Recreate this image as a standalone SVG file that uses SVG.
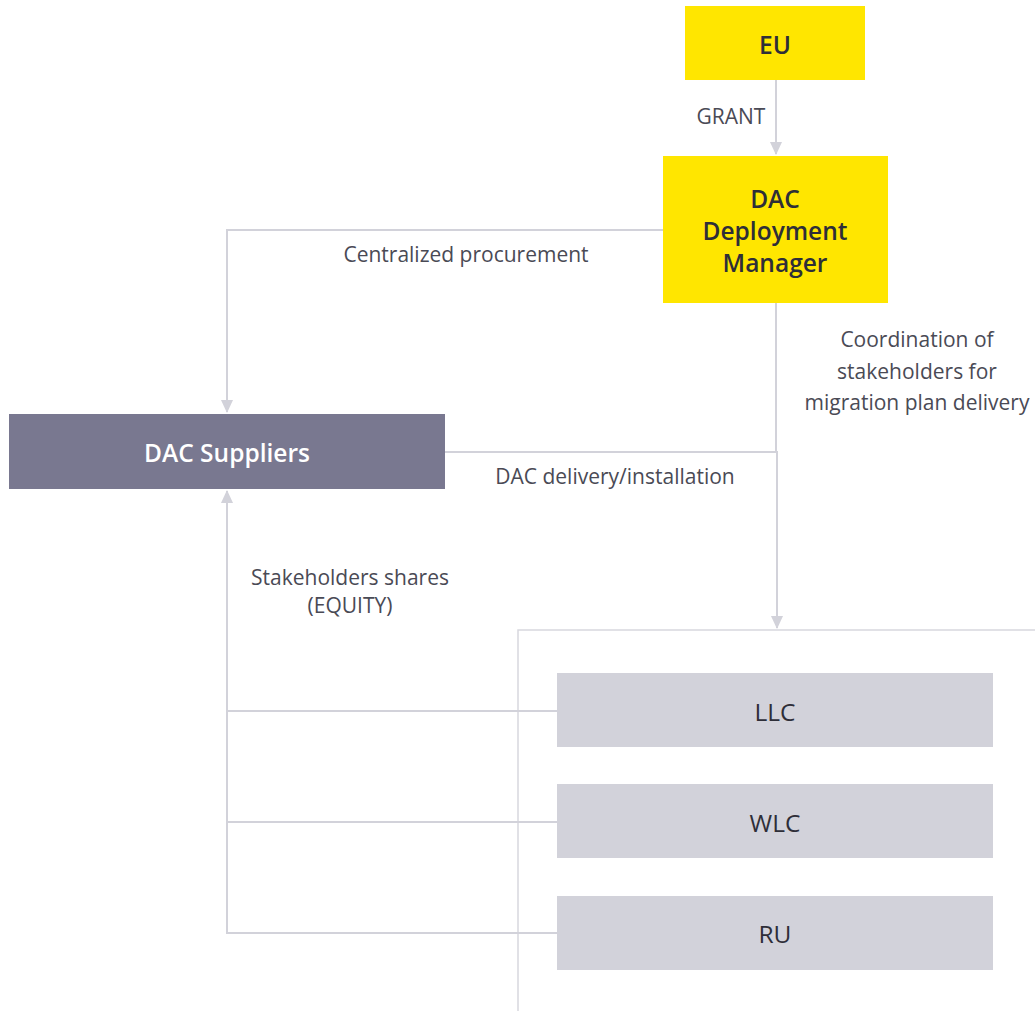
<svg xmlns="http://www.w3.org/2000/svg" width="1035" height="1011" viewBox="0 0 1035 1011">
<defs>
<marker id="arr" markerWidth="14" markerHeight="12" refX="12" refY="6" orient="auto" markerUnits="userSpaceOnUse">
<path d="M0,0 L13,6 L0,12 Z" fill="#d2d2da"/>
</marker>
<style>
.ln{fill:none;stroke:#d2d2da;stroke-width:2}
.lbl{font-family:"Open Sans","Liberation Sans",Arial,sans-serif;font-size:21px;fill:#4a4a55;text-anchor:middle}
.nt{font-family:"Open Sans","Liberation Sans",Arial,sans-serif;font-size:24.5px;text-anchor:middle;dominant-baseline:central}
.yel{fill:#ffe600}
.grey{fill:#d2d2da}
</style>
</defs>
<rect width="1035" height="1011" fill="#ffffff"/>
<g id="container">
<rect x="518" y="630" width="530" height="400" fill="none" stroke="#d8d8de" stroke-width="1.5"/>
</g>
<g id="connectors">
<path class="ln" d="M776,80 V154" marker-end="url(#arr)"/>
<path class="ln" d="M663,230 H227 V412" marker-end="url(#arr)"/>
<path class="ln" d="M776,303 V452"/>
<path class="ln" d="M445,452 H777 V628" marker-end="url(#arr)"/>
<path class="ln" d="M557,711 H227"/>
<path class="ln" d="M557,822 H227"/>
<path class="ln" d="M557,933 H227 V491" marker-end="url(#arr)"/>
</g>
<g id="labels">
<text class="lbl" x="731" y="124">GRANT</text>
<text class="lbl" x="466" y="262">Centralized procurement</text>
<text class="lbl" x="917" y="347">Coordination of</text>
<text class="lbl" x="917" y="379">stakeholders for</text>
<text class="lbl" x="917" y="410">migration plan delivery</text>
<text class="lbl" x="615" y="484">DAC delivery/installation</text>
<text class="lbl" x="350" y="585">Stakeholders shares</text>
<text class="lbl" x="350" y="613">(EQUITY)</text>
</g>
<g id="eu">
<rect class="yel" x="685" y="6" width="180" height="74"/>
<text class="nt" x="775" y="44" font-weight="600" fill="#2e2e38">EU</text>
</g>
<g id="ddm">
<rect class="yel" x="663" y="156" width="225" height="147"/>
<text class="nt" x="775" y="198" font-weight="600" fill="#2e2e38">DAC</text>
<text class="nt" x="775" y="230" font-weight="600" fill="#2e2e38">Deployment</text>
<text class="nt" x="775" y="262" font-weight="600" fill="#2e2e38">Manager</text>
</g>
<g id="suppliers">
<rect x="9" y="414" width="436" height="75" fill="#797890"/>
<text class="nt" x="227" y="452" font-weight="600" fill="#ffffff">DAC Suppliers</text>
</g>
<g id="llc">
<rect class="grey" x="557" y="673" width="436" height="74"/>
<text class="nt" x="775" y="711" fill="#2e2e38">LLC</text>
</g>
<g id="wlc">
<rect class="grey" x="557" y="784" width="436" height="74"/>
<text class="nt" x="775" y="822" fill="#2e2e38">WLC</text>
</g>
<g id="ru">
<rect class="grey" x="557" y="896" width="436" height="74"/>
<text class="nt" x="775" y="933" fill="#2e2e38">RU</text>
</g>
</svg>
